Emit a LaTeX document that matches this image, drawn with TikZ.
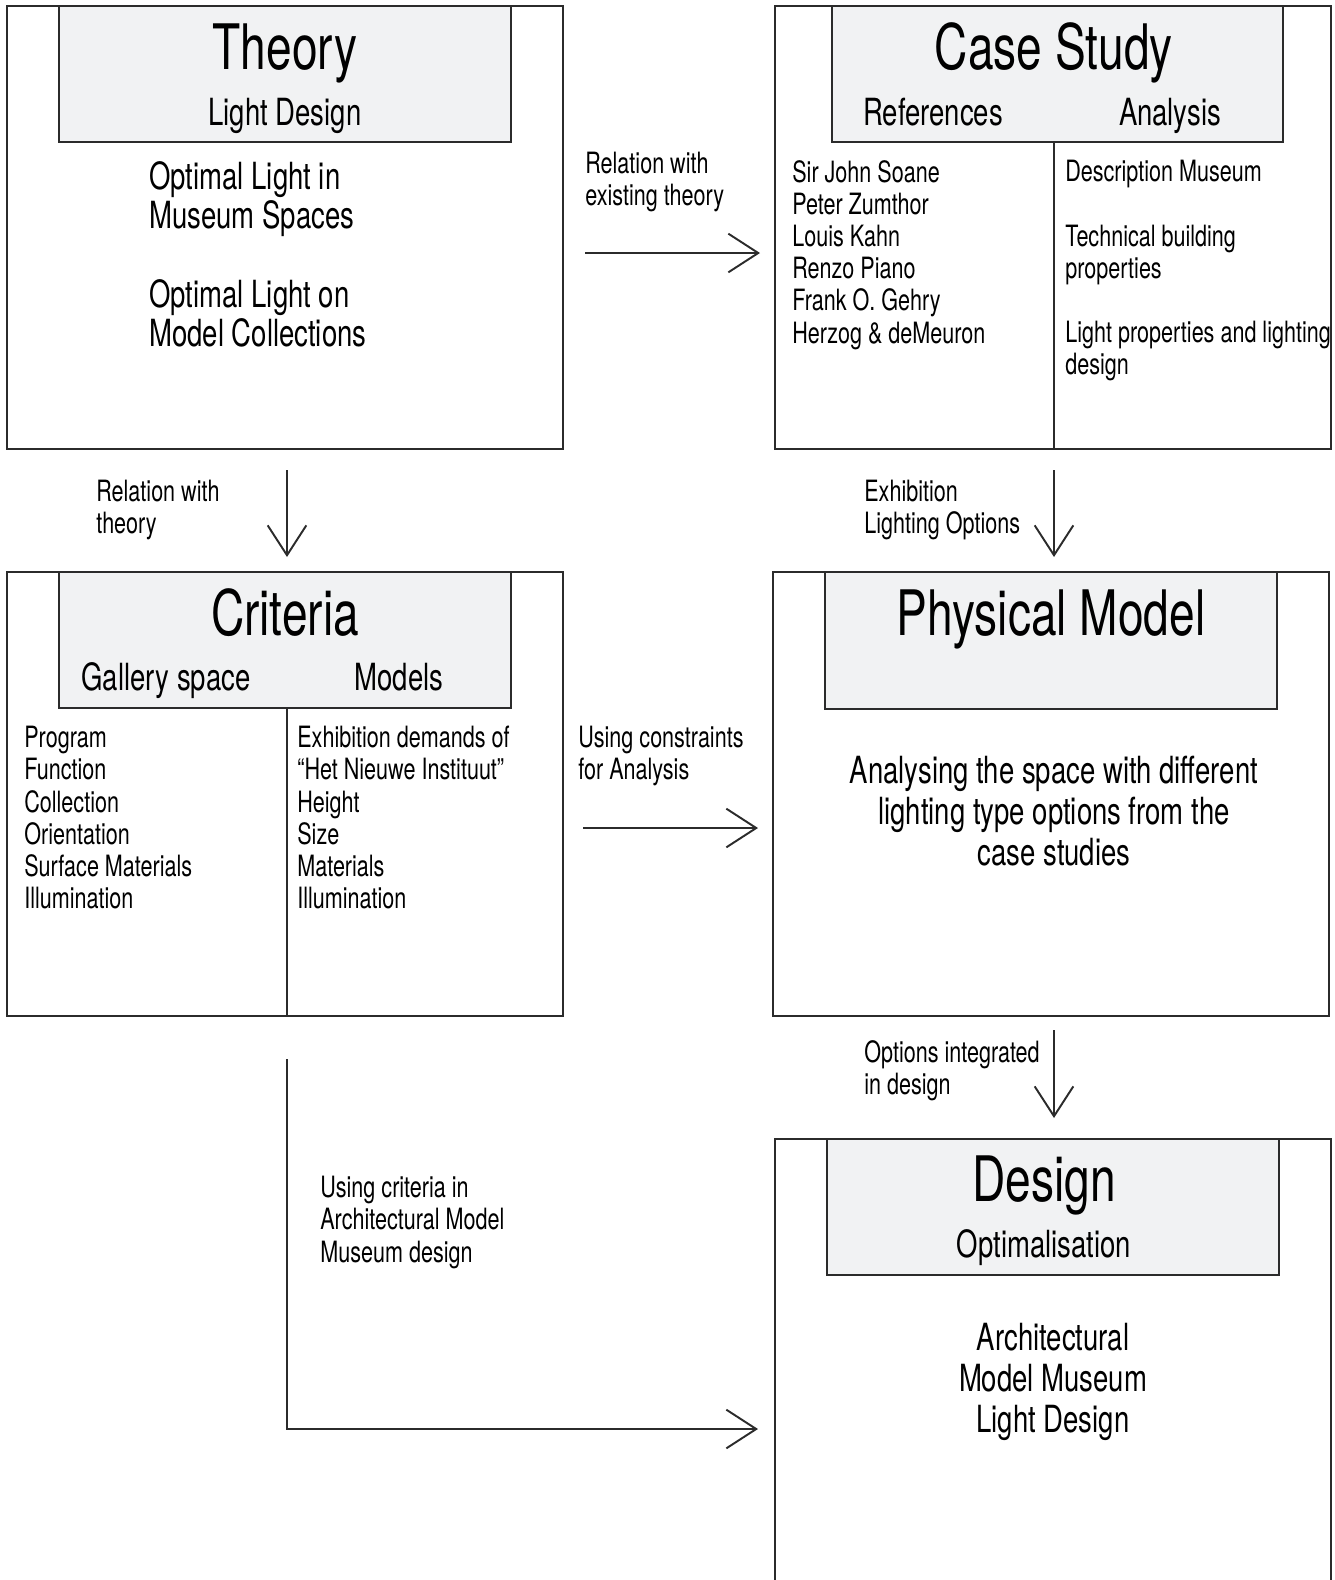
\documentclass[tikz,border=0pt]{standalone}
\usepackage{fontspec}
\setmainfont{TeX Gyre Heros}[FakeStretch=0.735]
\usetikzlibrary{arrows.meta,positioning}
\definecolor{headgray}{HTML}{F1F2F3}
\definecolor{linegray}{HTML}{2B2B2B}
\tikzset{
  frame/.style={draw=linegray,line width=1.1pt},
  headbox/.style={frame,fill=headgray},
  flow/.style={draw=linegray,line width=1.1pt,-{Straight Barb[length=17pt,width=22pt,line width=1.1pt]}},
  bigtitle/.style={font=\fontsize{35.7}{40}\selectfont,anchor=base},
  subtitle/.style={font=\fontsize{21.3}{24}\selectfont,anchor=base},
  bodytext/.style={font=\fontsize{21.3}{22.4}\selectfont,align=left,anchor=north west,inner sep=0pt},
  centertext/.style={font=\fontsize{21.3}{23.2}\selectfont,align=center,anchor=north,inner sep=0pt},
  smalltext/.style={font=\fontsize{16.7}{18.3}\selectfont,align=left,anchor=north west,inner sep=0pt},
}
\begin{document}
\begin{tikzpicture}[x=0.02cm,y=-0.02cm]
	\useasboundingbox (0,0) rectangle (1335,1580);
	% theory
	\draw[frame] (7,6) rectangle (563,449);
	\draw[headbox] (59,6) rectangle (511,142);
	\node[bigtitle] (theory) at (285,69) {Theory};
	\node[subtitle] (lightdesign) at (285,125) {Light Design};
	\node[bodytext] (optimal) at (149,161) {Optimal Light in\\Museum Spaces\\ \\Optimal Light on\\Model Collections};
	% case study
	\draw[frame] (775,6) rectangle (1331,449);
	\draw[headbox] (832,6) rectangle (1283,142);
	\draw[frame] (1054,142) -- (1054,449);
	\node[bigtitle] (casestudy) at (1054,69) {Case Study};
	\node[subtitle] (references) at (933,125) {References};
	\node[subtitle] (analysis) at (1170,125) {Analysis};
	\node[smalltext] (architects) at (792,160) {Sir John Soane\\Peter Zumthor\\Louis Kahn\\Renzo Piano\\Frank O. Gehry\\Herzog \& deMeuron};
	\node[smalltext] (aspects) at (1065,160) {Description Museum\\ \\Technical building\\properties\\ \\Light properties and lighting\\design};
	% criteria
	\draw[frame] (7,572) rectangle (563,1016);
	\draw[headbox] (59,572) rectangle (511,708);
	\draw[frame] (287,708) -- (287,1016);
	\node[bigtitle] (criteria) at (285,635) {Criteria};
	\node[subtitle] (gallery) at (166,690) {Gallery space};
	\node[subtitle] (models) at (399,690) {Models};
	\node[smalltext] (gallerylist) at (24,726) {Program\\Function\\Collection\\Orientation\\Surface Materials\\Illumination};
	\node[smalltext] (modellist) at (297,726) {Exhibition demands of\\“Het Nieuwe Instituut”\\Height\\Size\\Materials\\Illumination};
	% physical model
	\draw[frame] (773,572) rectangle (1329,1016);
	\draw[headbox] (825,572) rectangle (1277,709);
	\node[bigtitle] (physical) at (1051,635) {Physical Model};
	\node[centertext] (analysing) at (1054,756) {Analysing the space with different\\lighting type options from the\\case studies};
	% design, open at the bottom
	\draw[frame] (775,1580) -- (775,1139) -- (1331,1139) -- (1331,1580);
	\draw[headbox] (827,1139) rectangle (1279,1275);
	\node[bigtitle] (design) at (1044,1201) {Design};
	\node[subtitle] (optimal2) at (1044,1257) {Optimalisation};
	\node[centertext] (museum) at (1053,1323) {Architectural\\Model Museum\\Light Design};
	% arrows
	\coordinate (relA) at (585,253);
	\coordinate (relB) at (760,253);
	\coordinate (theoA) at (287,470);
	\coordinate (theoB) at (287,557);
	\coordinate (exhA) at (1054,470);
	\coordinate (exhB) at (1054,557);
	\coordinate (conA) at (583,828);
	\coordinate (conB) at (758,828);
	\coordinate (optA) at (1054,1030);
	\coordinate (optB) at (1054,1118);
	\coordinate (useA) at (287,1059);
	\coordinate (useB) at (758,1429);
	\draw[flow] (relA) -- (relB);
	\draw[flow] (theoA) -- (theoB);
	\draw[flow] (exhA) -- (exhB);
	\draw[flow] (conA) -- (conB);
	\draw[flow] (optA) -- (optB);
	\draw[flow] (useA) |- (useB);
	\node[smalltext] (rellabel) at (585,152) {Relation with\\existing theory};
	\node[smalltext] (theolabel) at (96,480) {Relation with\\theory};
	\node[smalltext] (exhlabel) at (864,480) {Exhibition\\Lighting Options};
	\node[smalltext] (conlabel) at (578,726) {Using constraints\\for Analysis};
	\node[smalltext] (optlabel) at (864,1040) {Options integrated\\in design};
	\node[smalltext] (uselabel) at (320,1176) {Using criteria in\\Architectural Model\\Museum design};
\end{tikzpicture}
\end{document}
